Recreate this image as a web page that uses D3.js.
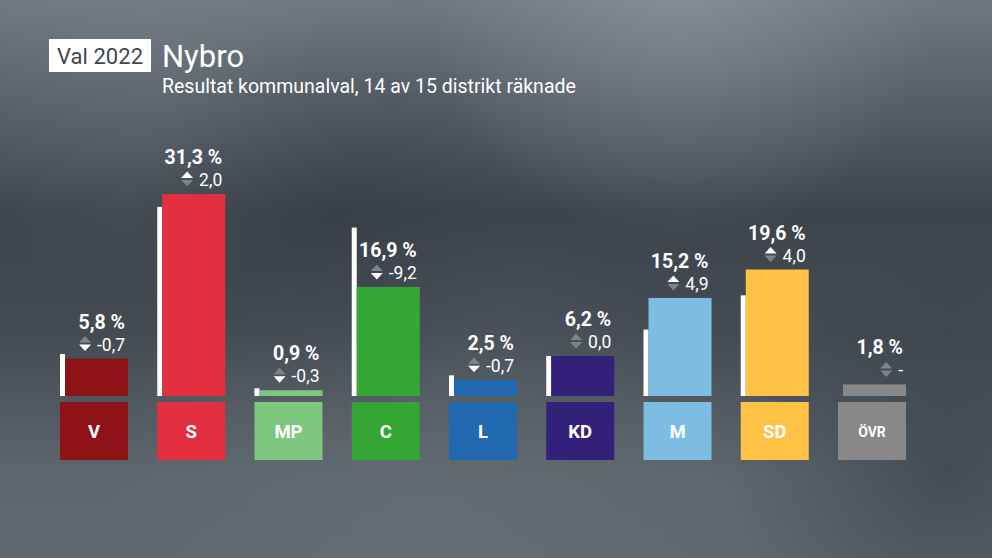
<!DOCTYPE html>
<html><head><meta charset="utf-8">
<script src="https://cdn.jsdelivr.net/npm/d3@7"></script>
<style>
html,body{margin:0;padding:0;background:#40474f;overflow:hidden}
svg{display:block}
text{font-family:Roboto,"Noto Sans",sans-serif}
</style></head>
<body>
<svg id="c" width="992" height="558"></svg>
<script>
const parties = ["V","S","MP","C","L","KD","M","SD","ÖVR"];
const results = [5.8,31.3,0.9,16.9,2.5,6.2,15.2,19.6,1.8];
const changes = [-0.7,2.0,-0.3,-9.2,-0.7,0.0,4.9,4.0,null];
const colors  = ["#8f1216","#e32f40","#7ec77f","#33a634","#2169b0","#33207a","#7ebde3","#ffc245","#888888"];
const titleBadge = "Val 2022";
const title = "Nybro";
const subtitle = "Resultat kommunalval, 14 av 15 distrikt räknade";

const svg = d3.select("#c");
const W = 992, H = 558;
const defs = svg.append("defs");

// background
const lg = defs.append("linearGradient").attr("id","bg").attr("x1",0).attr("y1",0).attr("x2",0).attr("y2",1);
[[0,"#6f7881"],[0.2,"#535b64"],[0.38,"#3d444c"],[0.6,"#444b53"],[0.85,"#5d656d"],[1,"#60686f"]]
  .forEach(([o,c])=>lg.append("stop").attr("offset",o).attr("stop-color",c));
svg.append("rect").attr("width",W).attr("height",H).attr("fill","url(#bg)");
function glow(id,cx,cy,r,color,op){
  const g = defs.append("radialGradient").attr("id",id).attr("cx",cx).attr("cy",cy).attr("r",r).attr("gradientUnits","userSpaceOnUse");
  g.append("stop").attr("offset",0).attr("stop-color",color).attr("stop-opacity",op);
  g.append("stop").attr("offset",1).attr("stop-color",color).attr("stop-opacity",0);
  svg.append("rect").attr("width",W).attr("height",H).attr("fill",`url(#${id})`);
}
glow("g1",680,-20,260,"#9aa3ab",0.5);
glow("g2",150,30,260,"#7d868e",0.3);
glow("g3",430,540,330,"#6a737b",0.45);
glow("g4",950,470,220,"#2f3842",0.55);
glow("g5",330,220,200,"#2f363e",0.35);

// header
svg.append("rect").attr("x",49).attr("y",39).attr("width",102).attr("height",33).attr("fill","#ffffff");
svg.append("text").attr("x",100).attr("y",63.5).attr("text-anchor","middle").attr("textLength",86)
  .attr("font-size",22).attr("fill","#42474d").text(titleBadge);
svg.append("text").attr("x",162).attr("y",67).attr("font-size",31).attr("fill","#fff").text(title);
svg.append("text").attr("x",162).attr("y",93).attr("font-size",19.5).attr("fill","#fff").text(subtitle);

// scales
const x = d3.scaleBand().domain(parties).range([60,906]).paddingInner(0.3008).paddingOuter(0);
const baseY = 396;
const y = d3.scaleLinear().domain([0,31.3]).range([baseY, 194]);
const bw = x.bandwidth();
const prevW = 5;

const data = parties.map((p,i)=>({p, v:results[i], d:changes[i], c:colors[i],
  prev: changes[i]==null ? null : +(results[i]-changes[i]).toFixed(1)}));

const g = svg.append("g");
const col = g.selectAll("g.col").data(data).join("g").attr("class","col");

// previous-result white bar
col.filter(d=>d.prev!=null).append("rect")
  .attr("x",d=>x(d.p)).attr("width",prevW)
  .attr("y",d=>y(d.prev)).attr("height",d=>baseY-y(d.prev)).attr("fill","#ffffff");

// current bar
col.append("rect")
  .attr("x",d=>x(d.p)+prevW).attr("width",bw-prevW)
  .attr("y",d=>y(d.v)).attr("height",d=>baseY-y(d.v)).attr("fill",d=>d.c);

// party label box
col.append("rect").attr("x",d=>x(d.p)).attr("width",bw).attr("y",402).attr("height",58).attr("fill",d=>d.c);
col.append("text").attr("x",d=>x(d.p)+bw/2).attr("y",d=>d.p==="ÖVR"?437:438)
  .attr("text-anchor","middle").attr("font-weight",700)
  .attr("font-size",d=>d.p==="ÖVR"?14:18.5).attr("fill","#fff").text(d=>d.p);

// value labels
const fmt = v => v.toFixed(1).replace(".",",");
col.append("text").attr("x",d=>x(d.p)+bw-3).attr("y",d=>y(d.v)-30)
  .attr("text-anchor","end").attr("font-weight",700).attr("font-size",19.5).attr("fill","#fff")
  .text(d=>fmt(d.v)+" %");

// delta text
col.append("text").attr("x",d=>x(d.p)+bw-3).attr("y",d=>y(d.v)-8)
  .attr("text-anchor","end").attr("font-size",17.5).attr("fill","#fff")
  .text(d=>d.d==null?"-":fmt(d.d));

// arrows
col.each(function(d){
  const gg = d3.select(this);
  const txt = gg.selectAll("text").filter((_,i,n)=>i===2).node();
  const tw = txt.getComputedTextLength();
  const right = x(d.p)+bw-3;
  const cx = right - tw - 12;
  const cy = y(d.v) - 15;
  const upOn = d.d!=null && d.d>0, downOn = d.d!=null && d.d<0;
  gg.append("path").attr("d",`M${cx-6},${cy-1}L${cx},${cy-7.5}L${cx+6},${cy-1}Z`)
    .attr("fill",upOn?"#ffffff":"#7d838a");
  gg.append("path").attr("d",`M${cx-6},${cy+1}L${cx},${cy+7.5}L${cx+6},${cy+1}Z`)
    .attr("fill",downOn?"#ffffff":"#7d838a");
});
</script>
</body></html>
